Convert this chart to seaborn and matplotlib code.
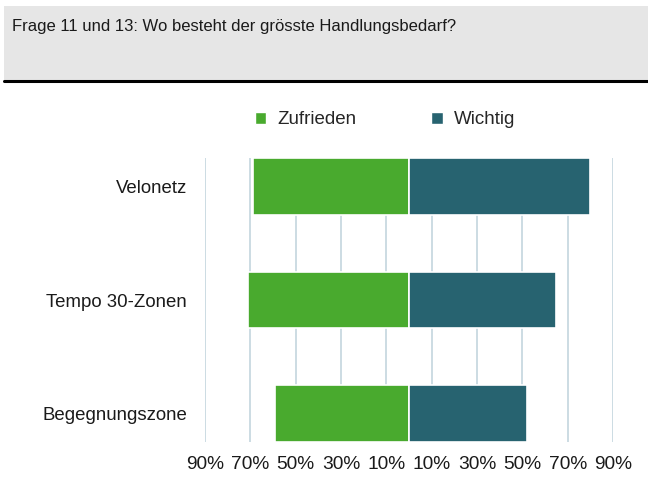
import numpy as np
import pandas as pd
import matplotlib
matplotlib.use("Agg")
import matplotlib.pyplot as plt
from matplotlib.patches import Rectangle, Patch
from matplotlib.lines import Line2D
import seaborn as sns

# Data (percent)
categories = ["Velonetz", "Tempo 30-Zonen", "Begegnungszone"]
zufrieden = [69, 71, 59]
wichtig = [80, 65, 52]
series = ["Zufrieden", "Wichtig"]
ticks = [-90, -70, -50, -30, -10, 10, 30, 50, 70, 90]
tick_labels = [f"{abs(t)}%" for t in ticks]
title = "Frage 11 und 13: Wo besteht der grösste Handlungsbedarf?"

colors = {"Zufrieden": "#49aa2e", "Wichtig": "#276370"}

df = pd.DataFrame({
    "cat": categories * 2,
    "series": ["Zufrieden"] * 3 + ["Wichtig"] * 3,
    "value": [-v for v in zufrieden] + wichtig,
})

sns.set_style("white")
plt.rcParams["font.family"] = ["Liberation Sans", "DejaVu Sans"]

W, H = 648, 497
fig = plt.figure(figsize=(W / 100, H / 100), dpi=100)
ax = fig.add_axes([205 / W, 1 - 442 / H, (613 - 205) / W, (442 - 158) / H])

sns.barplot(data=df, y="cat", x="value", hue="series", orient="h", dodge=False,
            palette=colors, saturation=1, width=0.5, edgecolor="white",
            linewidth=1.2, legend=False, ax=ax, zorder=3)

ax.set_xlim(-90, 90)
ax.set_ylim(2.25, -0.25)
ax.set_xticks(ticks)
ax.set_xticklabels(tick_labels, fontsize=13.8, color="#1a1a1a")
ax.tick_params(axis="y", labelsize=13.4, pad=13, length=0, labelcolor="#1a1a1a")
ax.tick_params(axis="x", pad=10, length=0)
ax.xaxis.grid(True, color="#c8d9e0", linewidth=1.3)
ax.set_axisbelow(True)
ax.set_xlabel("")
ax.set_ylabel("")
for s in ax.spines.values():
    s.set_visible(False)

# title box
fig.patches.append(Rectangle((4 / W, 1 - 80 / H), 1 - 4 / W, 74 / H,
                             transform=fig.transFigure, facecolor="#e6e6e6",
                             edgecolor="none", zorder=0))
fig.lines.append(Line2D([4 / W, 1], [1 - 80.5 / H, 1 - 80.5 / H],
                        transform=fig.transFigure, color="black", linewidth=2.2))
fig.text(12 / W, 1 - 27 / H, title, fontsize=12, va="center", ha="left",
         color="#1a1a1a")

# legend
handles = [Patch(facecolor=colors[s], label=s) for s in series]
fig.legend(handles=handles, loc="center", bbox_to_anchor=(385 / W, 1 - 120 / H),
           ncol=2, frameon=False, fontsize=13.5, handlelength=0.6,
           handleheight=0.6, columnspacing=4.0, handletextpad=0.6)

fig.savefig("out.png", dpi=100)
